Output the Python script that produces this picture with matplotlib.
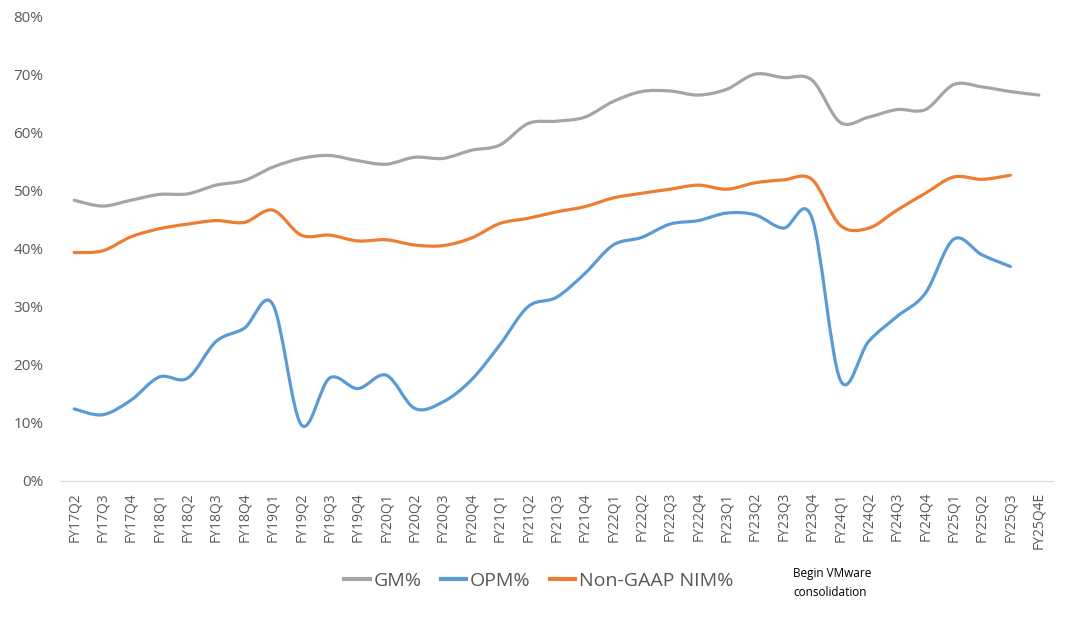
import numpy as np
import matplotlib.pyplot as plt
from matplotlib.path import Path
from matplotlib.patches import PathPatch
from matplotlib.lines import Line2D
from matplotlib.ticker import PercentFormatter

# Quarter labels
quarters = ["FY17Q2", "FY17Q3", "FY17Q4",
            "FY18Q1", "FY18Q2", "FY18Q3", "FY18Q4",
            "FY19Q1", "FY19Q2", "FY19Q3", "FY19Q4",
            "FY20Q1", "FY20Q2", "FY20Q3", "FY20Q4",
            "FY21Q1", "FY21Q2", "FY21Q3", "FY21Q4",
            "FY22Q1", "FY22Q2", "FY22Q3", "FY22Q4",
            "FY23Q1", "FY23Q2", "FY23Q3", "FY23Q4",
            "FY24Q1", "FY24Q2", "FY24Q3", "FY24Q4",
            "FY25Q1", "FY25Q2", "FY25Q3", "FY25Q4E"]

# Margins in percent
gm = [48.3, 47.3, 48.3, 49.3, 49.4, 50.9, 51.7, 54.0, 55.5, 56.0,
      55.1, 54.5, 55.7, 55.5, 56.9, 57.8, 61.5, 61.9, 62.6, 65.3,
      67.0, 67.1, 66.4, 67.4, 70.0, 69.4, 69.0, 61.7, 62.6, 63.9,
      63.9, 68.2, 67.8, 67.0, 66.4]
opm = [12.4, 11.4, 13.9, 17.9, 17.7, 24.0, 26.3, 30.4, 9.7, 17.7,
       15.9, 18.2, 12.5, 13.6, 17.4, 23.4, 30.0, 31.6, 35.7, 40.6,
       41.9, 44.2, 44.8, 46.1, 45.8, 43.5, 45.3, 17.4, 24.0, 28.3,
       32.3, 41.6, 38.9, 36.9]
nim = [39.3, 39.6, 42.0, 43.4, 44.2, 44.8, 44.5, 46.6, 42.3, 42.3,
       41.3, 41.5, 40.6, 40.5, 41.8, 44.3, 45.2, 46.3, 47.2, 48.7,
       49.5, 50.2, 50.9, 50.2, 51.3, 51.8, 51.9, 44.0, 43.5, 46.6,
       49.5, 52.3, 51.9, 52.6]

series = [("GM%", gm, "#A5A5A5"),
          ("OPM%", opm, "#5B9BD5"),
          ("Non-GAAP NIM%", nim, "#ED7D31")]


# Excel-style smoothed line: cubic Bezier segments through the data points
def smooth_path(values):
    pts = np.column_stack([np.arange(len(values)), np.array(values, dtype=float)])
    n = len(pts)
    verts = [pts[0]]
    codes = [Path.MOVETO]
    for i in range(n - 1):
        p0 = pts[max(i - 1, 0)]
        p1 = pts[i]
        p2 = pts[i + 1]
        p3 = pts[min(i + 2, n - 1)]
        verts += [p1 + (p2 - p0) / 6, p2 - (p3 - p1) / 6, p2]
        codes += [Path.CURVE4] * 3
    return Path(verts, codes)


plt.rcParams['font.family'] = ['Open Sans', 'DejaVu Sans']

fig = plt.figure(figsize=(10.8, 6.24), dpi=100)
ax = fig.add_axes([60 / 1080, 1 - 481 / 624, 993 / 1080, 465 / 624])

handles = []
for name, vals, color in series:
    ax.add_patch(PathPatch(smooth_path(vals), fill=False, edgecolor=color,
                           lw=2.3, capstyle="round", joinstyle="round"))
    handles.append(Line2D([], [], color=color, lw=3, label=name))

ax.set_xlim(-0.5, len(quarters) - 0.5)
ax.set_ylim(0, 80)
ax.set_yticks(np.arange(0, 81, 10))
ax.yaxis.set_major_formatter(PercentFormatter(decimals=0))
ax.set_xticks(np.arange(len(quarters)))
ax.set_xticklabels(quarters, rotation=90)

ax.tick_params(axis="y", length=0, labelsize=11, labelcolor="#595959", pad=12)
ax.tick_params(axis="x", length=0, labelsize=10, labelcolor="#595959", pad=8)
for side in ["top", "right", "left"]:
    ax.spines[side].set_visible(False)
ax.spines["bottom"].set_color("#D9D9D9")

fig.legend(handles=handles, loc="center", bbox_to_anchor=(539 / 1080, 1 - 581 / 624),
           ncol=3, frameon=False, fontsize=14, handlelength=1.3,
           handletextpad=0.2, columnspacing=1.0, labelcolor="#595959")

fig.text(793 / 1080, 1 - 567 / 624, "Begin VMware\nconsolidation",
         fontsize=8.5, va="top", ha="left", color="black", linespacing=1.6)

fig.savefig("out.png", dpi=100)
